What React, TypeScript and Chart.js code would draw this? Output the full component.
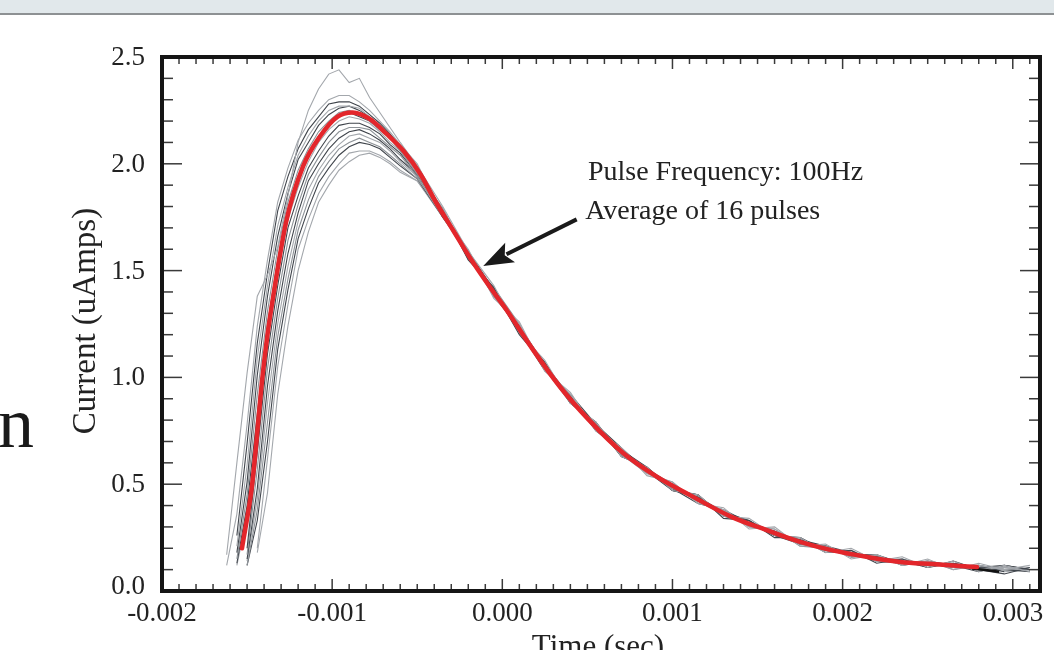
import React, { useEffect, useRef } from "react";
import { Chart, registerables } from "chart.js";

Chart.register(...registerables);

// ---------- axes ----------
const X_MIN = -0.002;
const X_MAX = 0.00316;
const Y_MIN = 0;
const Y_MAX = 2.5;

const xTickValues = [-0.002, -0.001, 0, 0.001, 0.002, 0.003];
const xTickLabels = ["-0.002", "-0.001", "0.000", "0.001", "0.002", "0.003"];
const yTickValues = [0, 0.5, 1.0, 1.5, 2.0, 2.5];
const yTickLabels = ["0.0", "0.5", "1.0", "1.5", "2.0", "2.5"];

const xTitle = "Time (sec)";
const yTitle = "Current (uAmps)";
const noteLines = ["Pulse Frequency: 100Hz", "Average of 16 pulses"];
const noteX = [0.000503, 0.000487];
const noteY = [1.924, 1.742];
const arrowFrom = [0.000437, 1.74];
const arrowTo = [-0.000112, 1.522];

// ---------- average pulse (red) ----------
const avgTime = [
  -0.00153, -0.00147, -0.00141, -0.00138, -0.00135, -0.00127, -0.00117, -0.00107, -0.00097, -0.00088,
  -0.00078, -0.00068, -0.00058, -0.00048, -0.00039, -0.00029, -0.00019, -0.00007, 0.00003, 0.00018,
  0.00034, 0.00051, 0.00071, 0.00091, 0.0011, 0.00135, 0.00155, 0.00175, 0.00194, 0.00214,
  0.00234, 0.00253, 0.00279,
];
const avgCurrent = [
  0.2, 0.5, 1.0, 1.2, 1.36, 1.73, 1.99, 2.13, 2.22, 2.24,
  2.21, 2.14, 2.06, 1.95, 1.82, 1.69, 1.56, 1.42, 1.31, 1.13,
  0.955, 0.8, 0.646, 0.534, 0.45, 0.346, 0.286, 0.23, 0.19, 0.16,
  0.136, 0.126, 0.112,
];
const tailTime = [0.00276, 0.00284, 0.00292];
const tailCurrent = [0.105, 0.098, 0.09];

// ---------- the 16 individual pulses (grey) ----------
const pulseTime = [
  -0.00162, -0.00156, -0.0015, -0.00144, -0.00138, -0.00132, -0.00126, -0.0012, -0.00114, -0.00108,
  -0.00102, -0.00096, -0.0009, -0.00084, -0.00078, -0.00072, -0.00066, -0.0006,
  -0.0005, -0.00035, -0.0002, -0.00005, 0.0001, 0.00025, 0.0004, 0.00055, 0.0007, 0.00085,
  0.001, 0.00115, 0.0013, 0.00145, 0.0016, 0.00175, 0.0019, 0.00205, 0.0022, 0.00235,
  0.0025, 0.00265, 0.0028, 0.00295, 0.0031,
];
const pulse01 = [0.17, 0.6, 1.02, 1.38, 1.48, 1.61, 1.85, 2.1, 2.25, 2.35, 2.42, 2.44, 2.38, 2.4, 2.31, 2.24, 2.17, 2.1,
  1.99, 1.8, 1.59, 1.43, 1.21, 1.08, 0.88, 0.79, 0.63, 0.58, 0.47, 0.45, 0.35, 0.34, 0.26, 0.25, 0.18, 0.2, 0.14, 0.16, 0.11, 0.14, 0.09, 0.12, 0.09];
const pulse02 = [0.12, 0.36, 0.78, 1.24, 1.55, 1.82, 1.98, 2.11, 2.19, 2.25, 2.3, 2.32, 2.32, 2.29, 2.25, 2.2, 2.15, 2.09,
  2.0, 1.76, 1.6, 1.37, 1.26, 1.03, 0.93, 0.75, 0.67, 0.54, 0.51, 0.41, 0.39, 0.29, 0.3, 0.21, 0.22, 0.15, 0.17, 0.12, 0.15, 0.1, 0.13, 0.1, 0.12];
const pulse03 = [null, 0.26, 0.69, 1.16, 1.49, 1.78, 1.94, 2.07, 2.16, 2.22, 2.28, 2.29, 2.29, 2.27, 2.23, 2.19, 2.14, 2.08,
  1.98, 1.78, 1.55, 1.42, 1.21, 1.07, 0.88, 0.79, 0.63, 0.58, 0.47, 0.45, 0.34, 0.33, 0.25, 0.25, 0.18, 0.19, 0.13, 0.15, 0.11, 0.14, 0.1, 0.08, 0.11];
const pulse04 = [null, 0.21, 0.59, 1.09, 1.43, 1.71, 1.89, 2.04, 2.13, 2.2, 2.25, 2.27, 2.27, 2.26, 2.22, 2.18, 2.13, 2.07,
  1.96, 1.79, 1.57, 1.38, 1.25, 1.03, 0.92, 0.76, 0.67, 0.55, 0.5, 0.42, 0.38, 0.3, 0.29, 0.22, 0.21, 0.16, 0.17, 0.12, 0.14, 0.11, 0.12, 0.1, null];
const pulse05 = [null, 0.18, 0.51, 1.01, 1.38, 1.66, 1.86, 2.02, 2.1, 2.18, 2.23, 2.26, 2.27, 2.25, 2.22, 2.17, 2.13, 2.08,
  1.97, 1.75, 1.59, 1.41, 1.2, 1.06, 0.91, 0.75, 0.66, 0.58, 0.47, 0.45, 0.35, 0.33, 0.26, 0.24, 0.21, 0.16, 0.16, 0.14, 0.11, 0.13, 0.11, 0.12, 0.1];
const pulse06 = [null, 0.15, 0.45, 0.92, 1.31, 1.6, 1.82, 1.97, 2.07, 2.15, 2.2, 2.24, 2.25, 2.23, 2.2, 2.16, 2.12, 2.06,
  1.95, 1.78, 1.55, 1.42, 1.25, 1.04, 0.88, 0.79, 0.64, 0.55, 0.51, 0.41, 0.38, 0.3, 0.29, 0.21, 0.2, 0.18, 0.14, 0.13, 0.14, 0.1, 0.12, 0.1, 0.11];
const pulse07 = [null, 0.13, 0.4, 0.83, 1.25, 1.55, 1.78, 1.94, 2.05, 2.13, 2.18, 2.22, 2.24, 2.22, 2.2, 2.16, 2.12, 2.07,
  1.97, 1.76, 1.58, 1.39, 1.24, 1.04, 0.91, 0.76, 0.66, 0.56, 0.5, 0.42, 0.37, 0.31, 0.28, 0.22, 0.21, 0.16, 0.17, 0.13, 0.13, 0.11, 0.12, 0.09, null];
const pulse08 = [null, 0.12, 0.35, 0.74, 1.19, 1.49, 1.74, 1.89, 2.01, 2.1, 2.16, 2.2, 2.22, 2.21, 2.19, 2.15, 2.1, 2.06,
  1.96, 1.77, 1.57, 1.4, 1.21, 1.07, 0.89, 0.78, 0.64, 0.57, 0.48, 0.45, 0.35, 0.32, 0.27, 0.24, 0.18, 0.19, 0.14, 0.15, 0.12, 0.12, 0.1, 0.11, 0.1];
const pulse09 = [null, null, 0.2, 0.65, 1.11, 1.43, 1.7, 1.85, 1.98, 2.06, 2.13, 2.18, 2.19, 2.19, 2.17, 2.14, 2.09, 2.05,
  1.95, 1.79, 1.56, 1.42, 1.22, 1.03, 0.92, 0.78, 0.63, 0.58, 0.48, 0.41, 0.38, 0.32, 0.26, 0.25, 0.19, 0.17, 0.17, 0.12, 0.14, 0.12, 0.09, 0.12, 0.1];
const pulse10 = [null, null, 0.17, 0.57, 1.04, 1.37, 1.64, 1.81, 1.95, 2.03, 2.1, 2.15, 2.17, 2.17, 2.16, 2.12, 2.08, 2.04,
  1.94, 1.76, 1.58, 1.39, 1.22, 1.06, 0.9, 0.76, 0.66, 0.56, 0.5, 0.43, 0.36, 0.31, 0.28, 0.23, 0.21, 0.17, 0.15, 0.15, 0.12, 0.12, 0.11, 0.1, null];
const pulse11 = [null, null, 0.15, 0.48, 0.96, 1.31, 1.58, 1.77, 1.92, 2.0, 2.07, 2.12, 2.15, 2.16, 2.14, 2.11, 2.07, 2.02,
  1.95, 1.77, 1.59, 1.38, 1.24, 1.06, 0.88, 0.78, 0.67, 0.56, 0.47, 0.44, 0.37, 0.33, 0.26, 0.22, 0.21, 0.18, 0.14, 0.13, 0.12, 0.13, 0.11, 0.1, 0.09];
const pulse12 = [null, null, 0.14, 0.43, 0.88, 1.25, 1.52, 1.73, 1.88, 1.97, 2.04, 2.09, 2.13, 2.14, 2.12, 2.1, 2.06, 2.01,
  1.94, 1.75, 1.57, 1.41, 1.22, 1.04, 0.9, 0.78, 0.65, 0.56, 0.49, 0.44, 0.36, 0.31, 0.28, 0.23, 0.19, 0.17, 0.16, 0.14, 0.13, 0.11, 0.12, 0.1, 0.1];
const pulse13 = [null, null, 0.12, 0.38, 0.79, 1.19, 1.46, 1.69, 1.83, 1.94, 2.01, 2.07, 2.1, 2.12, 2.1, 2.08, 2.04, 2.0,
  1.93, 1.77, 1.56, 1.41, 1.23, 1.05, 0.89, 0.77, 0.65, 0.57, 0.49, 0.42, 0.37, 0.32, 0.27, 0.24, 0.2, 0.18, 0.15, 0.13, 0.12, 0.12, 0.1, 0.11, 0.1];
const pulse14 = [null, null, 0.12, 0.33, 0.7, 1.13, 1.41, 1.65, 1.79, 1.91, 1.98, 2.04, 2.08, 2.1, 2.09, 2.07, 2.03, 1.99,
  1.93, 1.75, 1.58, 1.38, 1.23, 1.05, 0.91, 0.76, 0.64, 0.57, 0.5, 0.42, 0.36, 0.32, 0.28, 0.22, 0.2, 0.18, 0.16, 0.13, 0.13, 0.12, 0.11, 0.1, null];
const pulse15 = [null, null, null, 0.2, 0.62, 1.05, 1.34, 1.6, 1.74, 1.86, 1.94, 2.0, 2.05, 2.06, 2.06, 2.04, 2.01, 1.97,
  1.92, 1.75, 1.58, 1.4, 1.23, 1.04, 0.91, 0.77, 0.66, 0.56, 0.49, 0.43, 0.37, 0.31, 0.27, 0.23, 0.21, 0.17, 0.15, 0.14, 0.12, 0.12, 0.11, 0.09, 0.1];
const pulse16 = [null, null, null, 0.18, 0.46, 0.92, 1.24, 1.5, 1.68, 1.82, 1.9, 1.97, 2.01, 2.04, 2.05, 2.03, 2.0, 1.96,
  1.92, 1.76, 1.56, 1.41, 1.22, 1.05, 0.9, 0.78, 0.65, 0.57, 0.48, 0.43, 0.36, 0.32, 0.28, 0.22, 0.2, 0.18, 0.15, 0.13, 0.13, 0.12, 0.1, 0.1, 0.1];

const pulses = [
  pulse01, pulse02, pulse03, pulse04, pulse05, pulse06, pulse07, pulse08,
  pulse09, pulse10, pulse11, pulse12, pulse13, pulse14, pulse15, pulse16,
];
const pulseColors = [
  "#a3a7ac", "#a3a7ac", "#40454c", "#a3a7ac", "#40454c", "#8d9297", "#40454c", "#a3a7ac",
  "#40454c", "#8d9297", "#40454c", "#a3a7ac", "#8d9297", "#40454c", "#a3a7ac", "#a3a7ac",
];

const SERIF = '"Liberation Serif", "Times New Roman", serif';

const framePlugin = {
  id: "frameAndText",
  afterDatasetsDraw(chart: any) {
    const { ctx, chartArea: a, scales } = chart;
    const xs = scales.x;
    const ys = scales.y;
    ctx.save();

    const seg = (x1: number, y1: number, x2: number, y2: number) => {
      ctx.beginPath();
      ctx.moveTo(x1, y1);
      ctx.lineTo(x2, y2);
      ctx.stroke();
    };

    // inward ticks on all four sides
    ctx.strokeStyle = "#3a3a3a";
    ctx.lineWidth = 1.5;
    for (let i = 0; i <= 51; i++) {
      const v = X_MIN + i * 0.0001;
      const px = xs.getPixelForValue(v);
      const len = i % 10 === 0 ? 12 : 7;
      seg(px, a.bottom, px, a.bottom - len);
      seg(px, a.top, px, a.top + len);
    }
    for (let i = 0; i <= 25; i++) {
      const v = Y_MIN + i * 0.1;
      const py = ys.getPixelForValue(v);
      const len = i % 5 === 0 ? 20 : 11;
      seg(a.left, py, a.left + len, py);
      seg(a.right, py, a.right - len, py);
    }

    // frame
    ctx.strokeStyle = "#151515";
    ctx.lineWidth = 4;
    ctx.strokeRect(a.left, a.top, a.right - a.left, a.bottom - a.top);

    // tick labels
    ctx.fillStyle = "#222";
    ctx.font = "27px " + SERIF;
    ctx.textAlign = "right";
    ctx.textBaseline = "middle";
    yTickValues.forEach((v, i) => {
      const py = ys.getPixelForValue(v);
      ctx.fillText(yTickLabels[i], a.left - 17, v === 0 ? py - 4 : py + 1);
    });
    ctx.textAlign = "center";
    ctx.textBaseline = "alphabetic";
    xTickValues.forEach((v, i) => {
      ctx.fillText(xTickLabels[i], xs.getPixelForValue(v), a.bottom + 30);
    });

    // axis titles
    ctx.font = "31px " + SERIF;
    ctx.fillText(xTitle, (a.left + a.right) / 2 - 3, a.bottom + 65);
    ctx.save();
    ctx.font = "33px " + SERIF;
    ctx.translate(95, (a.top + a.bottom) / 2 - 3);
    ctx.rotate(-Math.PI / 2);
    ctx.textAlign = "center";
    ctx.fillText(yTitle, 0, 0);
    ctx.restore();

    // annotation
    ctx.font = "28px " + SERIF;
    ctx.textAlign = "left";
    noteLines.forEach((t, i) => {
      ctx.fillText(t, xs.getPixelForValue(noteX[i]), ys.getPixelForValue(noteY[i]));
    });
    const x1 = xs.getPixelForValue(arrowFrom[0]);
    const y1 = ys.getPixelForValue(arrowFrom[1]);
    const x2 = xs.getPixelForValue(arrowTo[0]);
    const y2 = ys.getPixelForValue(arrowTo[1]);
    const ang = Math.atan2(y2 - y1, x2 - x1);
    const headLen = 30;
    const headHalf = 11;
    const bx = x2 - headLen * Math.cos(ang);
    const by = y2 - headLen * Math.sin(ang);
    ctx.strokeStyle = "#1a1a1a";
    ctx.fillStyle = "#1a1a1a";
    ctx.lineWidth = 4;
    seg(x1, y1, bx + 4 * Math.cos(ang), by + 4 * Math.sin(ang));
    ctx.beginPath();
    ctx.moveTo(x2, y2);
    ctx.lineTo(bx + headHalf * Math.sin(ang), by - headHalf * Math.cos(ang));
    ctx.lineTo(bx + 6 * Math.cos(ang), by + 6 * Math.sin(ang));
    ctx.lineTo(bx - headHalf * Math.sin(ang), by + headHalf * Math.cos(ang));
    ctx.closePath();
    ctx.fill();

    ctx.restore();
  },
};

export default function App() {
  const canvasRef = useRef<HTMLCanvasElement | null>(null);

  useEffect(() => {
    const canvas = canvasRef.current;
    if (!canvas) return;

    const toPoints = (xsArr: number[], ysArr: (number | null)[]) =>
      xsArr
        .map((x, i) => ({ x, y: ysArr[i] }))
        .filter((p) => p.y !== null && p.y !== undefined);

    const datasets: any[] = [
      {
        label: "Average",
        data: toPoints(avgTime, avgCurrent),
        showLine: true,
        borderColor: "#e3262b",
        borderWidth: 4.5,
        pointRadius: 0,
        cubicInterpolationMode: "monotone",
        borderCapStyle: "round",
        borderJoinStyle: "round",
        order: 0,
      },
      {
        label: "Tail",
        data: toPoints(tailTime, tailCurrent),
        showLine: true,
        borderColor: "#111",
        borderWidth: 2.5,
        pointRadius: 0,
        order: 1,
      },
      ...pulses.map((p, k) => ({
        label: "Pulse " + (k + 1),
        data: toPoints(pulseTime, p),
        showLine: true,
        borderColor: pulseColors[k],
        borderWidth: 1.1,
        pointRadius: 0,
        tension: 0,
        order: 2 + k,
      })),
    ];

    const chart = new Chart(canvas, {
      type: "scatter",
      data: { datasets },
      options: {
        responsive: false,
        animation: false,
        events: [],
        layout: { padding: { left: 162, top: 57, right: 14, bottom: 59 } },
        plugins: { legend: { display: false }, tooltip: { enabled: false } },
        scales: {
          x: { type: "linear", min: X_MIN, max: X_MAX, display: false },
          y: { type: "linear", min: Y_MIN, max: Y_MAX, display: false },
        },
      },
      plugins: [framePlugin],
    } as any);

    return () => chart.destroy();
  }, []);

  return (
    <div
      style={{
        position: "fixed",
        left: 0,
        top: 0,
        width: 1054,
        height: 650,
        overflow: "hidden",
        background: "#ffffff",
      }}
    >
      <canvas
        ref={canvasRef}
        width={1054}
        height={650}
        style={{ position: "absolute", left: 0, top: 0, width: 1054, height: 650 }}
      />
      <div style={{ position: "absolute", left: 0, top: 0, width: 1054, height: 13, background: "#e1e8eb" }} />
      <div style={{ position: "absolute", left: 0, top: 13, width: 1054, height: 2, background: "#8d9193" }} />
      <svg width={60} height={100} style={{ position: "absolute", left: 0, top: 380 }}>
        <text x={-2} y={67} fontFamily="Liberation Serif" fontSize={72} fill="#1a1a1a">
          n
        </text>
      </svg>
    </div>
  );
}
